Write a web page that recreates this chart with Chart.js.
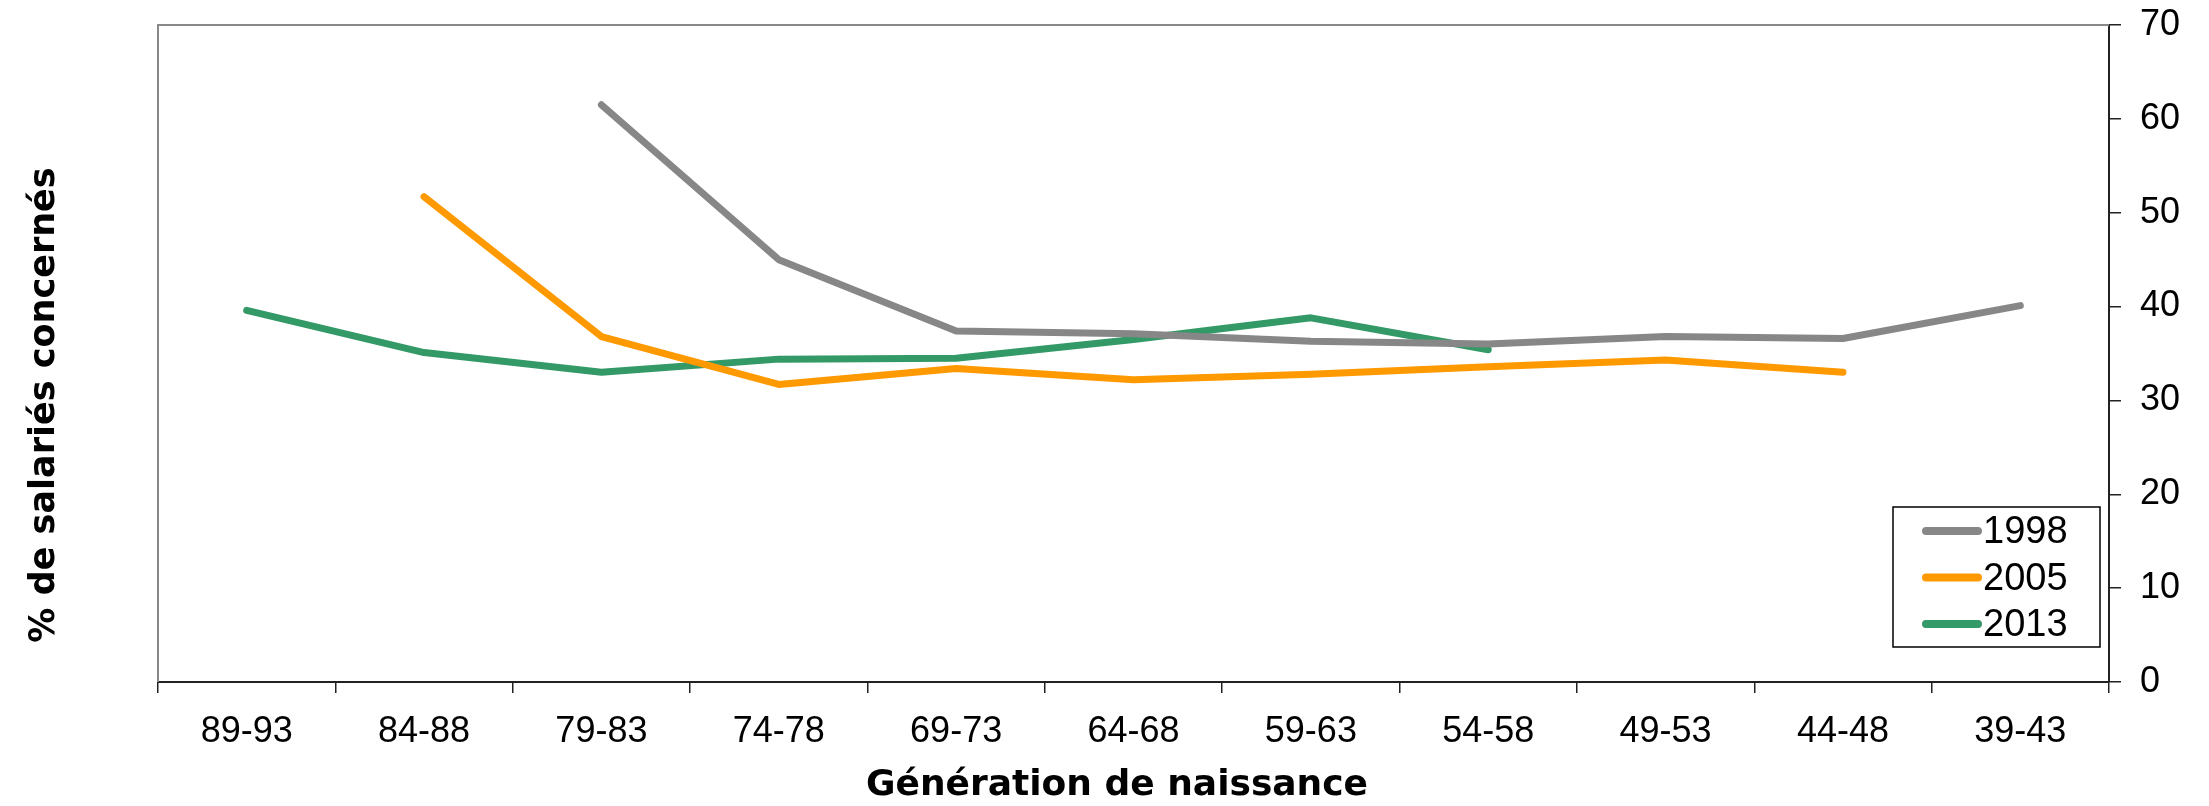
<!DOCTYPE html>
<html>
<head>
<meta charset="utf-8">
<script src="https://cdn.jsdelivr.net/npm/chart.js@4.4.1/dist/chart.umd.min.js"></script>
<style>
  body { margin: 0; background: #fff; }
</style>
</head>
<body>
<canvas id="myChart" width="2209" height="806"></canvas>
<script>
//data
const generations = ['89-93', '84-88', '79-83', '74-78', '69-73', '64-68', '59-63', '54-58', '49-53', '44-48', '39-43'];
const serie1998 = [null, null, 61.5, 45.0, 37.4, 37.1, 36.3, 36.0, 36.8, 36.6, 40.1];
const serie2005 = [null, 51.7, 36.8, 31.7, 33.4, 32.2, 32.8, 33.6, 34.3, 33.0, null];
const serie2013 = [39.6, 35.1, 33.0, 34.4, 34.5, 36.5, 38.8, 35.4, null, null, null];
const yTicks = [0, 10, 20, 30, 40, 50, 60, 70];

const xTitle = 'Génération de naissance';
const yTitle = '% de salariés concernés';

const ctx = document.getElementById('myChart');

// gray frame on top + left of plot area, axis titles
const frame = {
    id: 'frame',
    beforeDatasetsDraw(chart) {
        const a = chart.chartArea;
        const c = chart.ctx;
        c.save();
        c.strokeStyle = '#888';
        c.lineWidth = 2;
        c.beginPath();
        c.moveTo(a.left, a.bottom);
        c.lineTo(a.left, a.top);
        c.lineTo(a.right, a.top);
        c.stroke();

        c.fillStyle = '#000';
        c.textAlign = 'center';
        c.textBaseline = 'middle';
        c.font = 'bold 36px "DejaVu Sans", sans-serif';
        c.fillText(xTitle, 1117, 786);
        c.translate(45, 405);
        c.rotate(-Math.PI / 2);
        c.font = 'bold 35px "DejaVu Sans", sans-serif';
        c.fillText(yTitle, 0, 0);
        c.restore();
    }
};

// legend box inside the plot
const boxLegend = {
    id: 'boxLegend',
    afterDraw(chart) {
        const c = chart.ctx;
        c.save();
        c.fillStyle = '#fff';
        c.fillRect(1893, 507, 207, 140);
        c.strokeStyle = '#000';
        c.lineWidth = 1.5;
        c.strokeRect(1893, 507, 207, 140);
        c.font = '38px "Liberation Sans", Arial, sans-serif';
        c.textBaseline = 'middle';
        c.textAlign = 'left';
        chart.data.datasets.forEach((ds, i) => {
            const y = 531 + i * 46.5;
            c.strokeStyle = ds.borderColor;
            c.lineWidth = 8;
            c.lineCap = 'round';
            c.beginPath();
            c.moveTo(1926, y);
            c.lineTo(1978, y);
            c.stroke();
            c.fillStyle = '#000';
            c.fillText(ds.label, 1983, y + 2);
        });
        c.restore();
    }
};

new Chart(ctx, {
    type: 'line',
    data: {
        labels: generations,
        datasets: [
            { label: '1998', data: serie1998, borderColor: '#878787' },
            { label: '2005', data: serie2005, borderColor: '#FF9900' },
            { label: '2013', data: serie2013, borderColor: '#339966' }
        ]
    },
    options: {
        responsive: false,
        animation: false,
        devicePixelRatio: 1,
        layout: { padding: { top: 25, left: 158, right: 0, bottom: 0 } },
        elements: {
            line: { borderWidth: 7, borderCapStyle: 'round', borderJoinStyle: 'round', tension: 0 },
            point: { radius: 0 }
        },
        plugins: {
            legend: { display: false },
            tooltip: { enabled: false }
        },
        scales: {
            x: {
                offset: true,
                grid: { offset: true, drawOnChartArea: false, tickLength: 11, color: '#222', lineWidth: 1.5 },
                border: { color: '#222', width: 2 },
                ticks: {
                    color: '#000',
                    padding: 17,
                    maxRotation: 0,
                    font: { family: '"Liberation Sans", Arial, sans-serif', size: 36 }
                },
                afterFit: s => { s.height = 124; s.paddingLeft = 0; s.paddingRight = 0; }
            },
            y: {
                position: 'right',
                min: 0,
                max: 70,
                afterBuildTicks: s => { s.ticks = yTicks.map(v => ({ value: v })); },
                grid: { drawOnChartArea: false, tickLength: 12, color: '#222', lineWidth: 1.5 },
                border: { color: '#222', width: 2 },
                ticks: {
                    color: '#000',
                    padding: 19,
                    font: { family: '"Liberation Sans", Arial, sans-serif', size: 36 }
                },
                afterFit: s => { s.width = 100; s.paddingTop = 0; s.paddingBottom = 0; }
            }
        }
    },
    plugins: [frame, boxLegend]
});
</script>
</body>
</html>
